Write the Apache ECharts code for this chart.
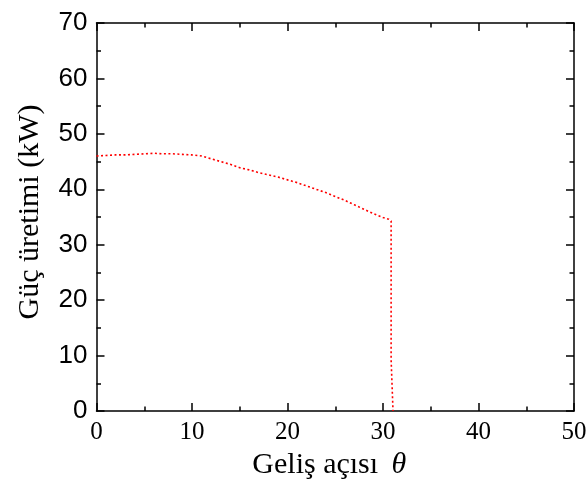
<!DOCTYPE html>
<html>
<head>
<meta charset="utf-8">
<script src="https://cdn.jsdelivr.net/npm/echarts@6/dist/echarts.min.js"></script>
<style>html,body{margin:0;padding:0;background:#fff;}#c{width:587px;height:486px;}</style>
</head>
<body>
<div id="c"></div>
<script>
const theta = [0, 1, 2, 3, 4, 5, 6, 7, 8, 9, 10, 11, 12, 13, 14, 15, 16, 17, 18, 19, 20, 21, 22, 23, 24, 25, 26, 27, 28, 29, 30, 30.6, 30.85, 30.85, 31.05, 31.05];
const power = [46.0, 46.1, 46.2, 46.2, 46.3, 46.4, 46.5, 46.4, 46.4, 46.3, 46.2, 46.0, 45.5, 45.0, 44.5, 43.9, 43.5, 43.0, 42.6, 42.2, 41.7, 41.2, 40.6, 40.0, 39.4, 38.7, 38.0, 37.2, 36.4, 35.6, 34.9, 34.6, 34.3, 9.3, 9.0, 0];
const xTicks = [0, 10, 20, 30, 40, 50];
const yTicks = [0, 10, 20, 30, 40, 50, 60, 70];

const chart = echarts.init(document.getElementById('c'), null, {renderer: 'canvas'});
const axisLine = {show: true, onZero: false, lineStyle: {color: '#000', width: 1.5}};
const tickIn = {show: true, inside: true, length: 8, lineStyle: {color: '#000', width: 1.5}};
const minorIn = {show: true, splitNumber: 2, length: 4.5, lineStyle: {color: '#000', width: 1.5}};
chart.setOption({
  animation: false,
  backgroundColor: '#fff',
  grid: {left: 96.5, right: 13, top: 23, bottom: 75, containLabel: false, outerBoundsMode: 'none'},
  xAxis: [{
    type: 'value', min: xTicks[0], max: xTicks[xTicks.length - 1], interval: 10,
    axisLine: axisLine, axisTick: tickIn, minorTick: minorIn, splitLine: {show: false},
    axisLabel: {color: '#000', fontFamily: 'Liberation Serif', fontSize: 25, margin: 9},
    name: '{n|Geliş açısı}    {t|θ}', nameLocation: 'middle', nameGap: 38,
    nameTextStyle: {padding: [0, 12, 0, 0], rich: {
      n: {fontFamily: 'Liberation Serif', fontSize: 30, color: '#000'},
      t: {fontFamily: 'Liberation Serif', fontStyle: 'italic', fontSize: 30, color: '#000'}
    }}
  }, {
    type: 'value', position: 'top', min: xTicks[0], max: xTicks[xTicks.length - 1], interval: 10,
    axisLine: axisLine, axisTick: tickIn, minorTick: minorIn, splitLine: {show: false},
    axisLabel: {show: false}
  }],
  yAxis: [{
    type: 'value', min: yTicks[0], max: yTicks[yTicks.length - 1], interval: 10,
    axisLine: axisLine, axisTick: tickIn, minorTick: minorIn, splitLine: {show: false},
    axisLabel: {color: '#000', fontFamily: 'Liberation Sans', fontSize: 26, margin: 9},
    name: 'Güç üretimi (kW)', nameLocation: 'middle', nameGap: 51, nameRotate: 90,
    nameTextStyle: {fontFamily: 'Liberation Serif', fontSize: 30, color: '#000', padding: [0, 0, 0, 10]}
  }, {
    type: 'value', position: 'right', min: yTicks[0], max: yTicks[yTicks.length - 1], interval: 10,
    axisLine: axisLine, axisTick: tickIn, minorTick: minorIn, splitLine: {show: false},
    axisLabel: {show: false}
  }],
  series: [{
    type: 'line', xAxisIndex: 0, yAxisIndex: 0, symbol: 'none', smooth: false,
    data: theta.map((t, i) => [t, power[i]]),
    lineStyle: {color: '#ff0000', width: 1.6, type: [2, 2.5]}
  }]
});
</script>
</body>
</html>
